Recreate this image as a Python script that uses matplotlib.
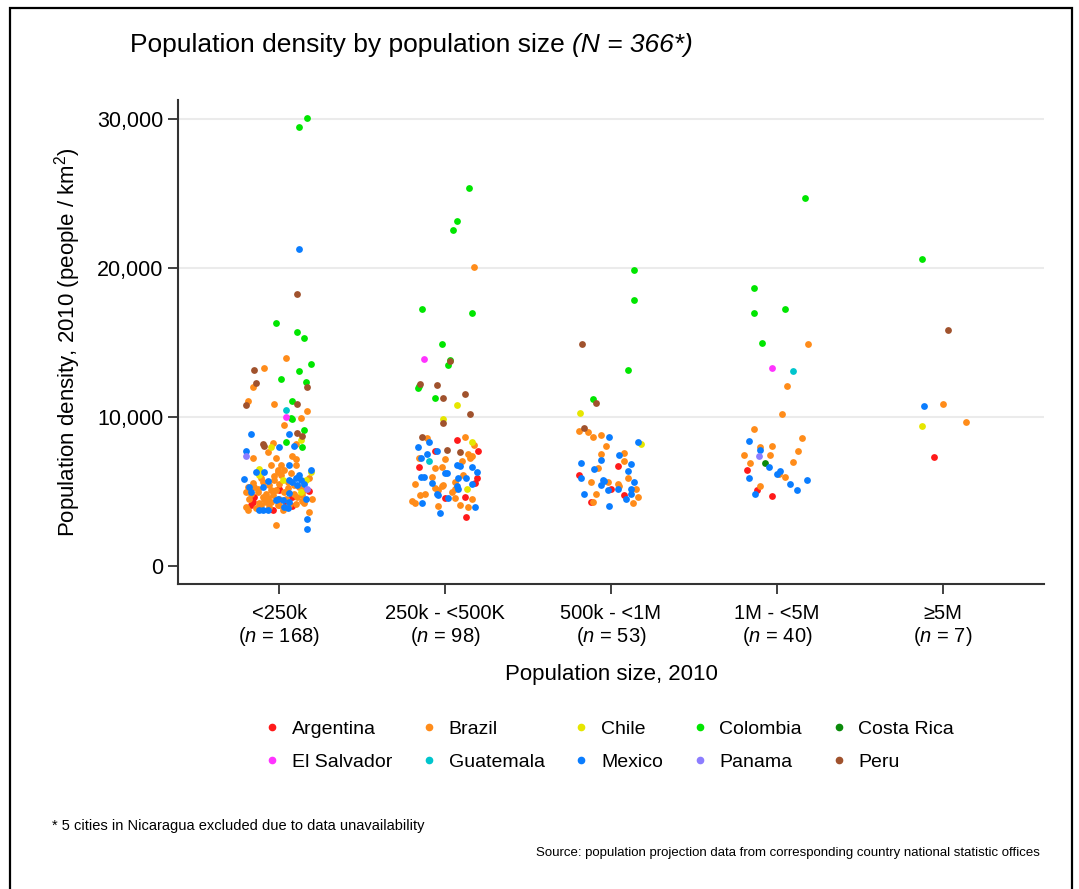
import matplotlib
matplotlib.use("Agg")
import matplotlib.pyplot as plt
from matplotlib.lines import Line2D
from matplotlib.patches import Rectangle
from matplotlib.ticker import FuncFormatter

plt.rcParams['font.family'] = ['Liberation Sans', 'DejaVu Sans']
plt.rcParams['mathtext.fontset'] = 'custom'
plt.rcParams['mathtext.rm'] = 'Liberation Sans'
plt.rcParams['mathtext.it'] = 'Liberation Sans:italic'

# categories on the x axis
size_groups = ['<250k', '250k - <500K', '500k - <1M', '1M - <5M', '≥5M']
group_n = [168, 98, 53, 40, 7]

countries = ['Argentina', 'Brazil', 'Chile', 'Colombia', 'Costa Rica',
             'El Salvador', 'Guatemala', 'Mexico', 'Panama', 'Peru']
codes = ['ARG', 'BRA', 'CHL', 'COL', 'CRI', 'SLV', 'GTM', 'MEX', 'PAN', 'PER']
colors = ['#ff1a1a', '#ff8c1a', '#e6e600', '#00e600', '#0a8a0a',
          '#ff33ff', '#00c5cd', '#0a7dff', '#8c7dff', '#a0522d']

# (country, jitter, density people/km2)
lt250k = [
    ('COL', 0.17, 30100), ('COL', 0.12, 29500), ('MEX', 0.12, 21300), ('PER', 0.11, 18300),
    ('COL', -0.02, 16300), ('COL', 0.11, 15700), ('COL', 0.15, 15300), ('BRA', 0.04, 14000),
    ('COL', 0.19, 13600), ('PER', -0.15, 13200), ('BRA', -0.09, 13300), ('COL', 0.12, 13100),
    ('COL', 0.01, 12600), ('COL', 0.16, 12400), ('PER', -0.14, 12300), ('BRA', -0.16, 12000),
    ('PER', 0.17, 12000), ('BRA', -0.19, 11100), ('PER', -0.20, 10800), ('BRA', -0.03, 10900),
    ('COL', 0.08, 11100), ('PER', 0.11, 10900), ('BRA', 0.17, 10400), ('GTM', 0.04, 10500),
    ('SLV', 0.04, 10050), ('COL', 0.07, 9980), ('COL', 0.08, 9880), ('BRA', 0.13, 9980),
    ('BRA', 0.03, 9460), ('COL', 0.15, 9130), ('MEX', -0.17, 8880), ('MEX', 0.06, 8900),
    ('PER', 0.11, 8930), ('PER', 0.14, 8750), ('CHL', 0.13, 8480), ('COL', 0.04, 8320),
    ('PER', -0.10, 8230), ('BRA', -0.04, 8280), ('PER', -0.09, 8070), ('CHL', -0.05, 7990),
    ('MEX', 0.00, 7990), ('COL', 0.14, 8010), ('MEX', 0.09, 8070), ('BRA', 0.10, 8230),
    ('MEX', -0.20, 7760), ('PAN', -0.20, 7400), ('BRA', -0.07, 7670), ('BRA', -0.16, 7270),
    ('BRA', 0.08, 7380), ('BRA', 0.10, 7230), ('BRA', -0.02, 7250), ('MEX', -0.21, 5840),
    ('BRA', -0.05, 6780), ('BRA', -0.01, 6440), ('CHL', -0.12, 6550), ('MEX', -0.14, 6330),
    ('MEX', -0.09, 6330), ('CHL', -0.12, 6110), ('MEX', -0.07, 5700), ('BRA', -0.03, 5820),
    ('BRA', -0.10, 5660), ('BRA', -0.06, 5440), ('MEX', -0.18, 5320), ('BRA', -0.15, 5320),
    ('MEX', -0.10, 5320), ('BRA', -0.05, 5100), ('BRA', -0.02, 5100), ('BRA', -0.20, 4990),
    ('BRA', -0.17, 4830), ('BRA', -0.13, 4990), ('BRA', -0.08, 4880), ('ARG', -0.04, 5030),
    ('ARG', 0.00, 5210), ('BRA', -0.18, 4540), ('ARG', -0.15, 4650), ('BRA', -0.10, 4650),
    ('BRA', -0.07, 4610), ('MEX', -0.02, 4430), ('BRA', 0.00, 4540), ('ARG', -0.16, 4320),
    ('BRA', -0.12, 4210), ('BRA', -0.08, 4320), ('BRA', -0.05, 4320), ('BRA', -0.01, 4090),
    ('ARG', -0.17, 4090), ('BRA', -0.20, 3980), ('BRA', -0.14, 3940), ('BRA', -0.06, 3980),
    ('ARG', -0.04, 3760), ('MEX', -0.12, 3800), ('MEX', -0.10, 3800), ('MEX', -0.07, 3800),
    ('BRA', -0.02, 2750), ('BRA', -0.19, 3760),
    ('BRA', 0.01, 6780), ('MEX', 0.06, 6780), ('BRA', 0.10, 6780), ('BRA', -0.01, 6330),
    ('BRA', 0.03, 6440), ('BRA', 0.01, 6110), ('MEX', 0.06, 5770), ('MEX', 0.10, 5950),
    ('MEX', 0.12, 6110), ('MEX', 0.13, 5770), ('CHL', 0.16, 5770), ('CHL', 0.02, 5820),
    ('BRA', 0.00, 5550), ('BRA', 0.05, 5660), ('BRA', 0.09, 5440), ('MEX', 0.11, 5440),
    ('MEX', 0.15, 5550), ('PAN', 0.17, 5210), ('BRA', 0.15, 5100), ('ARG', 0.18, 5050),
    ('CHL', 0.13, 4990), ('ARG', 0.00, 5100), ('BRA', 0.03, 4990), ('MEX', 0.06, 4920),
    ('BRA', 0.09, 4880), ('BRA', 0.14, 4770), ('MEX', -0.01, 4540), ('MEX', 0.02, 4430),
    ('BRA', 0.04, 4540), ('MEX', 0.06, 4320), ('ARG', 0.08, 4650), ('BRA', 0.11, 4650),
    ('MEX', 0.16, 4540), ('BRA', 0.20, 4540), ('BRA', 0.00, 4090), ('MEX', 0.03, 3980),
    ('MEX', 0.05, 3940), ('ARG', 0.08, 4030), ('BRA', 0.15, 4210), ('BRA', 0.02, 3760),
    ('BRA', 0.18, 3650), ('MEX', 0.17, 3200), ('MEX', 0.17, 2530),
    ('BRA', -0.11, 5900), ('BRA', -0.16, 5600), ('BRA', -0.13, 5150), ('BRA', -0.04, 4750),
    ('BRA', 0.05, 5250), ('BRA', 0.12, 5300), ('MEX', 0.08, 5650), ('BRA', -0.09, 4500),
    ('BRA', 0.06, 4100), ('BRA', -0.03, 6050), ('BRA', 0.07, 6250), ('MEX', -0.17, 4950),
    ('BRA', 0.18, 5950), ('BRA', -0.11, 4100), ('ARG', 0.04, 4250), ('BRA', 0.14, 4400),
    ('MEX', 0.19, 6450), ('BRA', -0.19, 5350), ('BRA', 0.10, 4200), ('CHL', 0.19, 6300),
]

lt500k = [
    ('COL', 0.145, 25400), ('COL', 0.07, 23200), ('COL', 0.05, 22600), ('BRA', 0.175, 20100),
    ('COL', -0.14, 17300), ('COL', 0.16, 17000), ('COL', -0.02, 14950), ('SLV', -0.13, 13900),
    ('COL', 0.03, 13850), ('PER', 0.03, 13800), ('COL', 0.02, 13500),
    ('COL', -0.16, 12100), ('COL', -0.165, 11950), ('PER', -0.15, 12250), ('PER', -0.05, 12150),
    ('COL', -0.06, 11300), ('PER', -0.01, 11300), ('PER', 0.12, 11550), ('CHL', 0.07, 10850),
    ('PER', 0.15, 10200), ('CHL', -0.01, 9870), ('PER', -0.01, 9600), ('PER', -0.14, 8680),
    ('BRA', -0.11, 8640), ('MEX', -0.10, 8340), ('ARG', 0.07, 8460), ('BRA', 0.12, 8660),
    ('CHL', 0.165, 8320), ('BRA', 0.175, 8170), ('ARG', 0.20, 7720), ('MEX', -0.165, 7970),
    ('ARG', -0.06, 7760), ('MEX', -0.05, 7740), ('PER', 0.01, 7790), ('PER', 0.09, 7650),
    ('BRA', 0.14, 7500), ('BRA', 0.16, 7400), ('BRA', 0.15, 7270), ('MEX', -0.11, 7500),
    ('BRA', -0.155, 7250), ('MEX', -0.145, 7250), ('BRA', 0.00, 7200), ('BRA', 0.10, 7030),
    ('GTM', -0.10, 7030), ('ARG', -0.155, 6660), ('BRA', -0.06, 6600), ('BRA', -0.02, 6660),
    ('MEX', 0.07, 6820), ('MEX', 0.09, 6710), ('MEX', 0.16, 6660), ('MEX', 0.19, 6330),
    ('MEX', 0.00, 6290), ('MEX', 0.01, 6290), ('MEX', -0.145, 5990), ('MEX', -0.125, 5990),
    ('BRA', -0.08, 5990), ('MEX', -0.08, 5590), ('MEX', 0.08, 5950), ('MEX', 0.125, 5890),
    ('ARG', 0.19, 5890), ('ARG', 0.18, 5590), ('MEX', 0.16, 5550), ('BRA', 0.06, 5620),
    ('BRA', -0.18, 5550), ('BRA', -0.01, 5480), ('BRA', -0.02, 5390), ('MEX', 0.07, 5370),
    ('MEX', 0.08, 5210), ('CHL', 0.13, 5210), ('BRA', -0.06, 5260), ('BRA', -0.04, 5100),
    ('MEX', -0.05, 4880), ('MEX', -0.04, 4770), ('BRA', -0.12, 4880), ('BRA', -0.15, 4810),
    ('BRA', 0.04, 4990), ('ARG', 0.00, 4610), ('MEX', 0.02, 4560), ('BRA', 0.06, 4610),
    ('ARG', 0.12, 4650), ('BRA', 0.165, 4500), ('BRA', -0.20, 4360), ('BRA', -0.18, 4270),
    ('MEX', -0.14, 4210), ('BRA', -0.04, 4030), ('BRA', 0.09, 4140), ('BRA', 0.14, 3980),
    ('MEX', 0.18, 3980), ('MEX', -0.03, 3580), ('ARG', 0.125, 3310), ('BRA', 0.06, 5180),
    ('BRA', 0.11, 6150),
]

lt1m = [
    ('COL', 0.14, 19900), ('COL', 0.14, 17900), ('PER', -0.175, 14900), ('COL', 0.10, 13200),
    ('COL', -0.11, 11200), ('PER', -0.09, 10950), ('CHL', -0.185, 10300), ('PER', -0.16, 9280),
    ('BRA', -0.19, 9060), ('BRA', -0.14, 9010), ('BRA', -0.11, 8660), ('BRA', -0.06, 8840),
    ('MEX', -0.01, 8660), ('BRA', -0.03, 8070), ('MEX', 0.16, 8340), ('CHL', 0.18, 8190),
    ('BRA', -0.06, 7520), ('BRA', 0.08, 7630), ('MEX', 0.05, 7470), ('MEX', -0.06, 7160),
    ('BRA', 0.08, 7070), ('MEX', -0.18, 6960), ('MEX', 0.12, 6870), ('ARG', 0.04, 6710),
    ('MEX', -0.10, 6530), ('BRA', -0.08, 6620), ('MEX', 0.10, 6360), ('ARG', -0.19, 6090),
    ('MEX', -0.18, 5930), ('MEX', -0.05, 5820), ('MEX', -0.04, 5720), ('BRA', -0.02, 5620),
    ('BRA', -0.12, 5620), ('MEX', -0.06, 5460), ('BRA', 0.10, 5890), ('MEX', 0.14, 5660),
    ('BRA', 0.04, 5550), ('BRA', 0.05, 5370), ('ARG', 0.00, 5210), ('MEX', -0.02, 5100),
    ('MEX', 0.04, 5150), ('MEX', 0.12, 5190), ('BRA', 0.15, 5150), ('MEX', 0.12, 4830),
    ('MEX', -0.16, 4830), ('BRA', -0.09, 4830), ('ARG', 0.08, 4770), ('MEX', 0.09, 4500),
    ('BRA', 0.16, 4630), ('ARG', -0.12, 4320), ('BRA', -0.11, 4320), ('BRA', 0.13, 4210),
    ('MEX', -0.01, 4030),
]

lt5m = [
    ('COL', 0.17, 24700), ('COL', -0.14, 18700), ('COL', -0.14, 17000), ('COL', 0.05, 17300),
    ('COL', -0.09, 15000), ('BRA', 0.19, 14900), ('SLV', -0.03, 13300), ('GTM', 0.10, 13100),
    ('BRA', 0.06, 12100), ('BRA', 0.03, 10250), ('BRA', -0.14, 9220), ('MEX', -0.17, 8390),
    ('BRA', 0.15, 8610), ('BRA', -0.10, 8010), ('BRA', -0.03, 8070), ('MEX', -0.10, 7790),
    ('BRA', 0.13, 7720), ('BRA', -0.20, 7450), ('PAN', -0.11, 7430), ('BRA', -0.04, 7490),
    ('BRA', -0.16, 6930), ('CRI', -0.07, 6930), ('BRA', 0.10, 7020), ('MEX', -0.05, 6660),
    ('ARG', -0.18, 6440), ('MEX', 0.00, 6220), ('BRA', 0.01, 6170), ('MEX', 0.02, 6400),
    ('BRA', 0.05, 5990), ('MEX', -0.17, 5890), ('MEX', 0.18, 5820), ('BRA', -0.10, 5370),
    ('ARG', -0.12, 5100), ('MEX', -0.13, 4830), ('ARG', -0.03, 4700), ('MEX', 0.08, 5500),
    ('MEX', 0.12, 5100),
]

ge5m = [
    ('COL', -0.125, 20600), ('PER', 0.03, 15860), ('MEX', -0.11, 10760), ('BRA', 0.00, 10870),
    ('CHL', -0.125, 9440), ('BRA', 0.14, 9660), ('ARG', -0.05, 7320),
]

groups = [lt250k, lt500k, lt1m, lt5m, ge5m]

fig = plt.figure(figsize=(10.79, 8.89), dpi=100)
ax = fig.add_axes([0.165, 0.343, 0.8025, 0.5445])

for code, color in zip(codes, colors):
    xs, ys = [], []
    for gi, grp in enumerate(groups):
        for c, j, d in grp:
            if c == code:
                xs.append(gi + j)
                ys.append(d)
    ax.scatter(xs, ys, s=24, color=color, linewidths=0, zorder=3)

for yv in [10000, 20000, 30000]:
    ax.axhline(yv, color='#ebebeb', lw=1.5, zorder=1)

ax.set_xlim(-0.61, 4.61)
ax.set_ylim(-1200, 31300)
ax.set_yticks([0, 10000, 20000, 30000])
ax.yaxis.set_major_formatter(FuncFormatter(lambda v, p: f'{int(v):,}'))
ax.set_xticks(range(5))
ax.set_xticklabels([f'{g}\n($\\it{{n}}$ = {n})' for g, n in zip(size_groups, group_n)],
                   linespacing=1.12)
ax.tick_params(axis='both', length=7, width=1.3, color='#333333')
ax.tick_params(axis='y', labelsize=15.5)
ax.tick_params(axis='x', labelsize=14.5, pad=7)
for s in ['top', 'right']:
    ax.spines[s].set_visible(False)
for s in ['left', 'bottom']:
    ax.spines[s].set_color('#333333')
    ax.spines[s].set_linewidth(1.5)

ax.set_ylabel('Population density, 2010 (people / km$^2$)', fontsize=16, labelpad=10)
ax.set_xlabel('Population size, 2010', fontsize=16, labelpad=12)

# title with italic tail
t1 = fig.text(0.1205, 0.949, 'Population density by population size ', fontsize=19, va='center')
fig.canvas.draw()
bb = t1.get_window_extent()
fig.text(bb.x1 / fig.bbox.width, 0.949, '(N = 366*)', fontsize=19, style='italic', va='center')

# legend laid out row by row (matplotlib fills columns)
order = [0, 5, 1, 6, 2, 7, 3, 8, 4, 9]
handles = [Line2D([], [], marker='o', ls='', color=colors[i], markersize=4.5) for i in order]
labels = [countries[i] for i in order]
fig.legend(handles, labels, ncol=5, loc='center', bbox_to_anchor=(0.566, 0.161),
           frameon=False, fontsize=14, handlelength=0.5, handletextpad=0.75,
           columnspacing=1.65, labelspacing=0.78)

fig.text(0.048, 0.066, '* 5 cities in Nicaragua excluded due to data unavailability', fontsize=10.5)
fig.text(0.964, 0.037, 'Source: population projection data from corresponding country national statistic offices',
         fontsize=9.5, ha='right')

fig.add_artist(Rectangle((0.0093, -0.02), 0.9842, 1.011, transform=fig.transFigure,
                         fill=False, edgecolor='black', lw=1.6))

fig.savefig('out.png', dpi=100)
